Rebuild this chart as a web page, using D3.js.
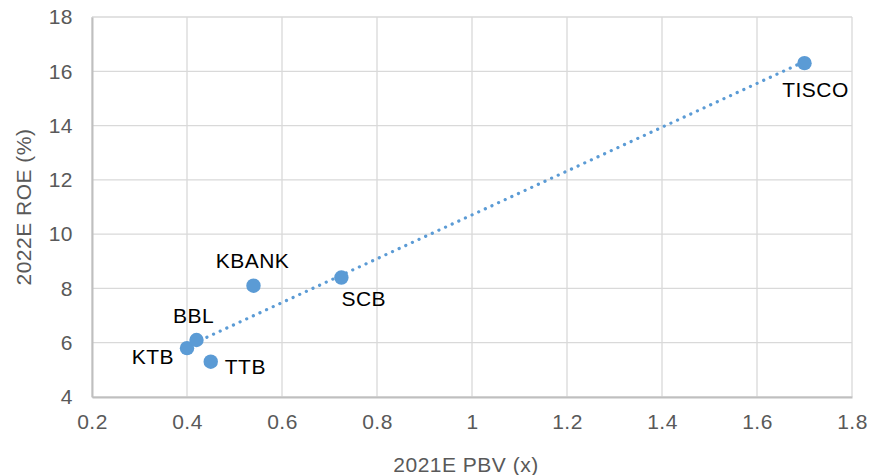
<!DOCTYPE html>
<html><head><meta charset="utf-8">
<script src="https://cdn.jsdelivr.net/npm/d3@7/dist/d3.min.js"></script>
<style>body{margin:0;background:#fff}svg{display:block}text{font-family:"Liberation Sans",Arial,Helvetica,sans-serif;letter-spacing:0.5px}</style>
</head><body><svg id="c" width="869" height="475"></svg>
<script>
const banks = ["KTB","BBL","TTB","KBANK","SCB","TISCO"];
const pbv = [0.40, 0.42, 0.45, 0.54, 0.725, 1.70];
const roe = [5.8, 6.1, 5.3, 8.1, 8.4, 16.3];
const xTicks = [0.2,0.4,0.6,0.8,1,1.2,1.4,1.6,1.8];
const yTicks = [4,6,8,10,12,14,16,18];
const xTitle = "2021E PBV (x)";
const yTitle = "2022E ROE (%)";

// label placement (style only)
const labelPos = {
  KTB:{dx:-13,dy:16,anchor:"end"},
  BBL:{dx:-3,dy:-17,anchor:"middle"},
  TTB:{dx:14,dy:12,anchor:"start"},
  KBANK:{dx:-1,dy:-18,anchor:"middle"},
  SCB:{dx:0,dy:28,anchor:"start"},
  TISCO:{dx:11,dy:34,anchor:"middle"}
};

const FS = 21;
const svg = d3.select("#c");
const L=92,R=852,T=17,B=397;
const x = d3.scaleLinear().domain([0.2,1.8]).range([L,R]);
const y = d3.scaleLinear().domain([4,18]).range([B,T]);

// grid
svg.append("g").selectAll("line").data(xTicks).join("line")
  .attr("x1",d=>x(d)).attr("x2",d=>x(d)).attr("y1",T).attr("y2",B)
  .attr("stroke","#d9d9d9").attr("stroke-width",1.3);
svg.append("g").selectAll("line").data(yTicks).join("line")
  .attr("x1",L).attr("x2",R).attr("y1",d=>y(d)).attr("y2",d=>y(d))
  .attr("stroke","#d9d9d9").attr("stroke-width",1.3);

// axes
const xa = svg.append("g").attr("transform",`translate(0,${B})`)
  .call(d3.axisBottom(x).tickValues(xTicks).tickSize(0).tickPadding(17).tickFormat(d3.format("")));
const ya = svg.append("g").attr("transform",`translate(${L},0)`)
  .call(d3.axisLeft(y).tickValues(yTicks).tickSize(0).tickPadding(19).tickFormat(d3.format("")));
[xa,ya].forEach(a=>{
  a.select(".domain").attr("stroke","#bfbfbf").attr("stroke-width",2);
  a.selectAll("text").attr("fill","#595959").attr("font-size",FS).attr("font-family","Liberation Sans, Arial, sans-serif");
});

// trendline (least squares)
const n = pbv.length;
const mx = d3.mean(pbv), my = d3.mean(roe);
let sxy=0,sxx=0;
for(let i=0;i<n;i++){sxy+=(pbv[i]-mx)*(roe[i]-my);sxx+=(pbv[i]-mx)**2;}
const slope=sxy/sxx, icpt=my-slope*mx;
const x0=d3.min(pbv), x1=d3.max(pbv);
svg.append("line")
  .attr("x1",x(x0)).attr("y1",y(icpt+slope*x0))
  .attr("x2",x(x1)).attr("y2",y(icpt+slope*x1))
  .attr("stroke","#5b9bd5").attr("stroke-width",3.2)
  .attr("stroke-linecap","round").attr("stroke-dasharray","0.1 7.2");

// points
const data = banks.map((b,i)=>({b,x:pbv[i],y:roe[i]}));
svg.append("g").selectAll("circle").data(data).join("circle")
  .attr("cx",d=>x(d.x)).attr("cy",d=>y(d.y)).attr("r",7.2).attr("fill","#5b9bd5");

// labels
svg.append("g").selectAll("text").data(data).join("text")
  .attr("x",d=>x(d.x)+labelPos[d.b].dx).attr("y",d=>y(d.y)+labelPos[d.b].dy)
  .attr("text-anchor",d=>labelPos[d.b].anchor)
  .attr("font-size",FS).attr("fill","#000").text(d=>d.b);

// titles
svg.append("text").attr("x",466).attr("y",472).attr("text-anchor","middle")
  .attr("font-size",FS).attr("fill","#595959").text(xTitle);
svg.append("text").attr("transform",`translate(31,${(T+B)/2}) rotate(-90)`)
  .attr("text-anchor","middle").attr("font-size",FS).attr("fill","#595959").text(yTitle);
</script></body></html>
